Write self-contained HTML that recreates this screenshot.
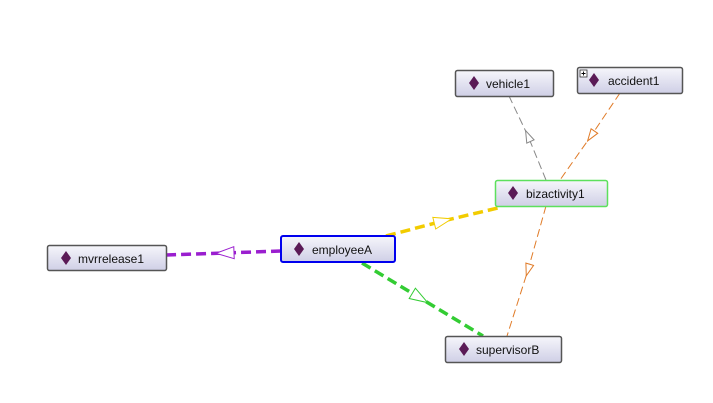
<!DOCTYPE html>
<html><head><meta charset="utf-8"><style>
html,body{margin:0;padding:0;background:#fff;}
svg{display:block;}
text{font-family:"Liberation Sans",sans-serif;font-size:12px;fill:#111;}
</style></head><body>
<svg width="713" height="403" viewBox="0 0 713 403" xmlns="http://www.w3.org/2000/svg">
<defs>
<linearGradient id="g" x1="0" y1="0" x2="0" y2="1">
<stop offset="0" stop-color="#f6f6fb"/><stop offset="1" stop-color="#cfcfe6"/>
</linearGradient>
<marker id="mP" markerWidth="20" markerHeight="14" refX="10" refY="7" orient="auto" markerUnits="userSpaceOnUse"><path d="M1,1 L19,7 L1,13 Z" fill="#fff" stroke="#9a1ecf" stroke-width="1"/></marker>
<marker id="mY" markerWidth="20" markerHeight="14" refX="10" refY="7" orient="auto" markerUnits="userSpaceOnUse"><path d="M1,1 L19,7 L1,13 Z" fill="#fff" stroke="#f2cc00" stroke-width="1"/></marker>
<marker id="mG" markerWidth="20" markerHeight="14" refX="10" refY="7" orient="auto" markerUnits="userSpaceOnUse"><path d="M1,1 L19,7 L1,13 Z" fill="#fff" stroke="#33cc33" stroke-width="1"/></marker>
<marker id="mK" markerWidth="14" markerHeight="10" refX="7" refY="5" orient="auto" markerUnits="userSpaceOnUse"><path d="M1,1 L13,5 L1,9 Z" fill="#fff" stroke="#888" stroke-width="1"/></marker>
<marker id="mO" markerWidth="14" markerHeight="10" refX="7" refY="5" orient="auto" markerUnits="userSpaceOnUse"><path d="M1,1 L13,5 L1,9 Z" fill="#fff" stroke="#e07b28" stroke-width="1"/></marker>
</defs>

<!-- edges -->
<polyline points="281,251 225,253 166,255" fill="none" stroke="#9a1ecf" stroke-width="3.5" stroke-dasharray="10,5" marker-mid="url(#mP)"/>
<polyline points="386,236 443,221 502,207" fill="none" stroke="#f2cc00" stroke-width="3.5" stroke-dasharray="10,5" marker-mid="url(#mY)"/>
<polyline points="362,263 420,298 483,336" fill="none" stroke="#33cc33" stroke-width="3.5" stroke-dasharray="10,5" marker-mid="url(#mG)"/>
<polyline points="546,180 528,136 509,96" fill="none" stroke="#888" stroke-width="1" stroke-dasharray="8,4" marker-mid="url(#mK)"/>
<polyline points="620,93 591,136 560,180" fill="none" stroke="#e07b28" stroke-width="1" stroke-dasharray="8,4" marker-mid="url(#mO)"/>
<polyline points="546,206 528,270 507,336" fill="none" stroke="#e07b28" stroke-width="1" stroke-dasharray="8,4" marker-mid="url(#mO)"/>

<!-- nodes -->
<g>
<rect x="455.5" y="70.5" width="98" height="26" rx="2" fill="url(#g)" stroke="#555" stroke-width="1.5"/>
<path d="M474,76 L479,83 L474,90 L469,83 Z" fill="#5a1a56"/>
<text x="486" y="88">vehicle1</text>

<rect x="577.5" y="67.5" width="105" height="26" rx="2" fill="url(#g)" stroke="#555" stroke-width="1.5"/>
<rect x="580" y="70" width="7" height="7" fill="#fff" stroke="#333" stroke-width="0.8"/>
<path d="M581.5,73.5 H585.5 M583.5,71.5 V75.5" stroke="#000" stroke-width="0.9"/>
<path d="M594,73 L599,80 L594,87 L589,80 Z" fill="#5a1a56"/>
<text x="608" y="85">accident1</text>

<rect x="495.5" y="180.5" width="112" height="26" rx="2" fill="url(#g)" stroke="#5de05d" stroke-width="1.5"/>
<path d="M513,186 L518,193 L513,200 L508,193 Z" fill="#5a1a56"/>
<text x="526" y="198">bizactivity1</text>

<rect x="47.5" y="245.5" width="119" height="25" rx="2" fill="url(#g)" stroke="#555" stroke-width="1.5"/>
<path d="M66,251 L71,258 L66,265 L61,258 Z" fill="#5a1a56"/>
<text x="78" y="263">mvrrelease1</text>

<rect x="281" y="236" width="114" height="26" rx="2" fill="url(#g)" stroke="#0000ee" stroke-width="2"/>
<path d="M299,242 L304,249 L299,256 L294,249 Z" fill="#5a1a56"/>
<text x="312" y="254">employeeA</text>

<rect x="445.5" y="336.5" width="116" height="26" rx="2" fill="url(#g)" stroke="#555" stroke-width="1.5"/>
<path d="M464,342 L469,349 L464,356 L459,349 Z" fill="#5a1a56"/>
<text x="476" y="354">supervisorB</text>
</g>
</svg>
</body></html>
